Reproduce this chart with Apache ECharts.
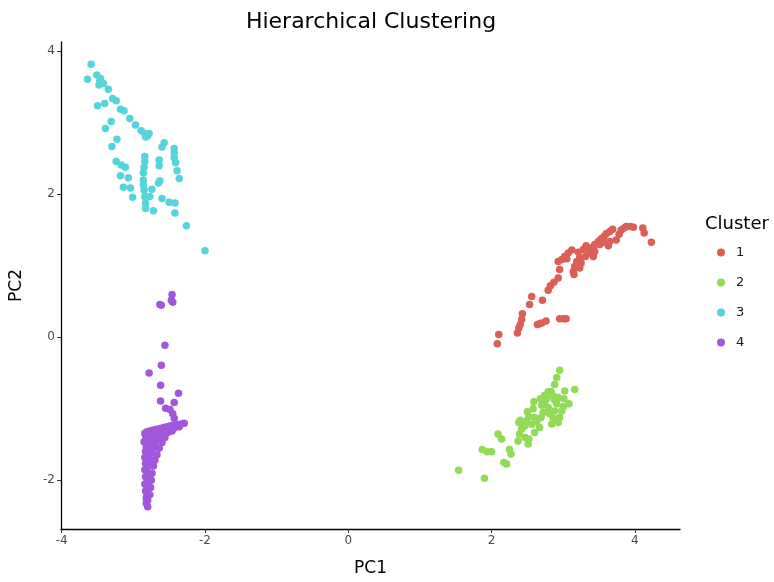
<!DOCTYPE html>
<html>
<head>
<meta charset="utf-8">
<script src="https://cdn.jsdelivr.net/npm/echarts@6/dist/echarts.min.js"></script>
<style>
  html, body { margin: 0; padding: 0; background: #fff; }
  #chart { width: 774px; height: 582px; }
</style>
</head>
<body>
<div id="chart"></div>
<script>
// cluster labels and colours
const clusters = ['1', '2', '3', '4'];
const colors = ['#db5f57', '#91db57', '#57d3db', '#a157db'];

const xTicks = [-4, -2, 0, 2, 4];
const yTicks = [-2, 0, 2, 4];

// PC1 / PC2 scores
const cluster1 = [
  [2.10, 0.04], [2.08, -0.09], [2.36, 0.06], [2.38, 0.13], [2.40, 0.18], [2.42, 0.25],
  [2.43, 0.33], [2.53, 0.46], [2.56, 0.57], [2.71, 0.52], [2.64, 0.18], [2.67, 0.19],
  [2.70, 0.20], [2.76, 0.23], [2.95, 0.26], [3.01, 0.26], [3.04, 0.26], [2.79, 0.66],
  [2.82, 0.72], [2.87, 0.77], [2.93, 0.83], [2.95, 0.95], [2.93, 1.06], [2.98, 1.09],
  [3.02, 1.13], [3.07, 1.18], [3.12, 1.22], [3.14, 0.92], [3.15, 0.88], [3.16, 0.99],
  [3.19, 1.06], [3.23, 1.11], [3.25, 1.04], [3.31, 1.13], [3.32, 1.28], [3.37, 1.18],
  [3.42, 1.13], [3.44, 1.20], [3.44, 1.30], [3.49, 1.34], [3.53, 1.38], [3.57, 1.41],
  [3.60, 1.45], [3.65, 1.48], [3.69, 1.51], [3.63, 1.28], [3.65, 1.34], [3.74, 1.36],
  [3.78, 1.44], [3.81, 1.50], [3.85, 1.53], [3.88, 1.55], [3.94, 1.55], [3.98, 1.54],
  [4.11, 1.53], [4.13, 1.46], [4.23, 1.33], [3.28, 1.23], [3.21, 1.19], [3.51, 1.30],
  [3.56, 1.33], [3.23, 0.97], [3.20, 1.00], [3.05, 1.10], [3.38, 1.25]
];

const cluster2 = [
  [1.54, -1.86], [1.90, -1.97], [1.87, -1.57], [1.94, -1.60], [2.00, -1.60], [2.09, -1.35],
  [2.14, -1.42], [2.17, -1.75], [2.21, -1.77], [2.25, -1.57], [2.27, -1.63], [2.37, -1.45],
  [2.39, -1.35], [2.42, -1.28], [2.38, -1.19], [2.40, -1.16], [2.46, -1.24], [2.49, -1.17],
  [2.51, -1.49], [2.52, -1.42], [2.47, -1.40], [2.50, -1.04], [2.52, -1.11], [2.59, -0.90],
  [2.58, -1.00], [2.60, -1.12], [2.60, -1.33], [2.67, -1.26], [2.69, -1.12], [2.72, -1.05],
  [2.74, -0.93], [2.77, -0.86], [2.79, -0.76], [2.83, -0.76], [2.88, -0.66], [2.91, -0.56],
  [2.95, -0.46], [2.79, -0.98], [2.81, -1.07], [2.84, -1.21], [2.86, -1.13], [2.88, -1.03],
  [2.91, -0.93], [2.93, -0.84], [2.93, -1.19], [2.95, -1.12], [2.98, -1.03], [3.00, -0.97],
  [3.02, -0.75], [3.01, -0.86], [3.08, -0.93], [3.16, -0.73], [2.68, -0.86], [2.74, -0.81],
  [2.86, -0.82], [2.88, -0.88], [2.56, -1.22], [2.63, -1.18], [2.70, -0.95]
];

const cluster3 = [
  [-3.59, 3.82], [-3.64, 3.61], [-3.51, 3.67], [-3.46, 3.62], [-3.48, 3.53], [-3.42, 3.55],
  [-3.47, 3.58], [-3.35, 3.47], [-3.40, 3.27], [-3.50, 3.24], [-3.29, 3.34], [-3.24, 3.31],
  [-3.18, 3.19], [-3.13, 3.17], [-3.05, 3.06], [-2.97, 2.97], [-2.89, 2.89], [-2.84, 2.85],
  [-2.78, 2.85], [-2.83, 2.80], [-2.80, 2.82], [-3.31, 3.02], [-3.39, 2.92], [-3.23, 2.77],
  [-3.30, 2.67], [-2.57, 2.72], [-2.60, 2.66], [-2.43, 2.64], [-2.43, 2.58], [-2.43, 2.51],
  [-2.41, 2.44], [-2.39, 2.33], [-2.36, 2.22], [-2.84, 2.53], [-2.84, 2.46], [-2.85, 2.38],
  [-2.86, 2.30], [-2.86, 2.20], [-2.86, 2.13], [-2.85, 2.06], [-2.84, 1.97], [-2.83, 1.88],
  [-2.83, 1.80], [-2.77, 1.97], [-2.74, 2.07], [-2.72, 1.77], [-2.64, 2.48], [-2.64, 2.40],
  [-2.63, 2.19], [-2.65, 2.16], [-2.60, 1.94], [-2.50, 1.89], [-2.42, 1.88], [-2.42, 1.74],
  [-3.24, 2.46], [-3.17, 2.41], [-3.11, 2.38], [-3.18, 2.26], [-3.07, 2.23], [-3.14, 2.10],
  [-3.04, 2.09], [-3.01, 1.96], [-2.26, 1.56], [-2.00, 1.21]
];

const cluster4 = [
  [-2.46, 0.60], [-2.47, 0.52], [-2.45, 0.49], [-2.61, 0.45], [-2.63, 0.46], [-2.56, -0.11],
  [-2.61, -0.39], [-2.78, -0.50], [-2.62, -0.67], [-2.37, -0.78], [-2.62, -0.89], [-2.43, -0.91],
  [-2.55, -0.99], [-2.49, -1.01], [-2.45, -1.07], [-2.43, -1.13],
  [-2.29, -1.20], [-2.33, -1.21], [-2.37, -1.22], [-2.41, -1.22], [-2.45, -1.23], [-2.49, -1.24],
  [-2.53, -1.25], [-2.57, -1.26], [-2.61, -1.27], [-2.65, -1.28], [-2.69, -1.29], [-2.73, -1.30],
  [-2.77, -1.31], [-2.81, -1.32], [-2.84, -1.34], [-2.36, -1.25], [-2.42, -1.26], [-2.48, -1.28],
  [-2.54, -1.29], [-2.60, -1.30], [-2.66, -1.31], [-2.72, -1.33], [-2.78, -1.35], [-2.83, -1.37],
  [-2.46, -1.31], [-2.52, -1.33], [-2.58, -1.34], [-2.64, -1.36], [-2.70, -1.38], [-2.76, -1.40],
  [-2.82, -1.42], [-2.56, -1.40], [-2.60, -1.47], [-2.64, -1.55], [-2.67, -1.64], [-2.70, -1.72],
  [-2.72, -1.80], [-2.74, -1.90], [-2.75, -2.00], [-2.76, -2.10], [-2.77, -2.20], [-2.66, -1.42],
  [-2.70, -1.48], [-2.73, -1.55], [-2.75, -1.62], [-2.77, -1.70], [-2.79, -1.80], [-2.80, -1.90],
  [-2.80, -2.00], [-2.81, -2.10], [-2.81, -2.20], [-2.80, -2.28], [-2.80, -2.37], [-2.80, -1.47],
  [-2.82, -1.53], [-2.83, -1.60], [-2.84, -1.68], [-2.83, -1.76], [-2.84, -1.85], [-2.83, -1.95],
  [-2.84, -2.05], [-2.83, -2.15], [-2.82, -2.25], [-2.82, -2.32], [-2.85, -1.46], [-2.76, -1.50],
  [-2.79, -1.58], [-2.81, -1.66], [-2.80, -1.74], [-2.81, -1.88], [-2.78, -1.98], [-2.79, -2.08]
];

const clusterData = [cluster1, cluster2, cluster3, cluster4];

const chart = echarts.init(document.getElementById('chart'), null, { renderer: 'canvas' });

const axisCommon = {
  axisLine: { show: true, onZero: false, lineStyle: { color: '#000', width: 1.3 } },
  axisTick: { show: true, length: 4, lineStyle: { color: '#333' } },
  axisLabel: { color: '#4d4d4d', fontSize: 12, fontFamily: 'DejaVu Sans', margin: 6 },
  splitLine: { show: false },
  nameLocation: 'middle',
  nameTextStyle: { color: '#000', fontSize: 17, fontFamily: 'DejaVu Sans' }
};

const option = {
  animation: false,
  backgroundColor: '#fff',
  color: colors,
  grid: { left: 61, right: 94, top: 42, bottom: 52 },
  xAxis: Object.assign({}, axisCommon, {
    type: 'value',
    min: -4.01,
    max: 4.63,
    name: 'PC1',
    nameGap: 31,
    axisTick: Object.assign({}, axisCommon.axisTick, { customValues: xTicks }),
    axisLabel: Object.assign({}, axisCommon.axisLabel, { customValues: xTicks })
  }),
  yAxis: Object.assign({}, axisCommon, {
    type: 'value',
    min: -2.68,
    max: 4.13,
    name: 'PC2',
    nameGap: 36,
    axisTick: Object.assign({}, axisCommon.axisTick, { customValues: yTicks }),
    axisLabel: Object.assign({}, axisCommon.axisLabel, { customValues: yTicks })
  }),
  legend: {
    orient: 'vertical',
    left: 712,
    top: 241,
    icon: 'circle',
    itemWidth: 8,
    itemHeight: 8,
    itemGap: 17,
    textStyle: { color: '#1a1a1a', fontSize: 13, fontFamily: 'DejaVu Sans', padding: [0, 0, 0, 6] },
    data: clusters
  },
  graphic: [
    {
      type: 'text',
      x: 371,
      y: 22,
      style: {
        text: 'Hierarchical Clustering', fill: '#000', font: '22px "DejaVu Sans"',
        textAlign: 'center', textVerticalAlign: 'middle'
      }
    },
    {
      type: 'text',
      x: 705,
      y: 224,
      style: {
        text: 'Cluster', fill: '#000', font: '18px "DejaVu Sans"',
        textAlign: 'left', textVerticalAlign: 'middle'
      }
    }
  ],
  series: clusters.map((c, i) => ({
    name: c,
    type: 'scatter',
    symbolSize: 7.5,
    itemStyle: { color: colors[i], opacity: 1 },
    data: clusterData[i]
  }))
};

chart.setOption(option);
</script>
</body>
</html>
